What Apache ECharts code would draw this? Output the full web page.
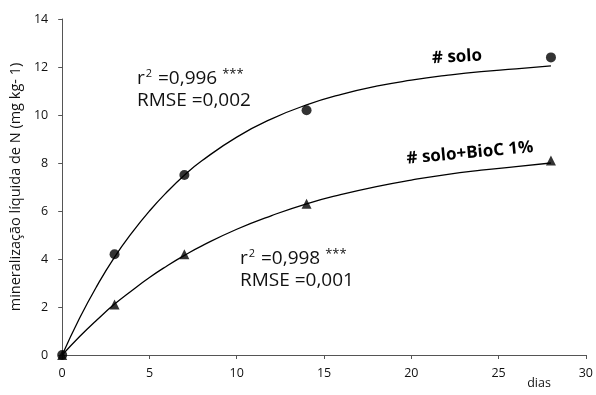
<!DOCTYPE html>
<html><head><meta charset="utf-8">
<script src="https://cdn.jsdelivr.net/npm/echarts@6/dist/echarts.min.js"></script>
<style>html,body{margin:0;padding:0;background:#fff}#c{width:596px;height:395px}</style>
</head><body><div id="c"></div>
<script>
const days = [0, 3, 7, 14, 28];
const solo = [0, 4.2, 7.5, 10.2, 12.4];
const soloBioC = [0, 2.1, 4.2, 6.3, 8.1];
const curveDays = [0, 1, 2, 3, 4, 5, 6, 7, 8, 10, 12, 14, 16, 18, 20, 22, 24, 26, 28];
const soloCurve = [0, 1.54, 2.89, 4.08, 5.10, 6.00, 6.79, 7.49, 8.09, 9.08, 9.84, 10.42, 10.86, 11.20, 11.45, 11.65, 11.81, 11.92, 12.05];
const bioCCurve = [0, 0.77, 1.47, 2.12, 2.69, 3.23, 3.71, 4.15, 4.55, 5.24, 5.81, 6.30, 6.69, 7.02, 7.29, 7.52, 7.70, 7.85, 8.0];
const pair = (xs, ys) => xs.map((x, i) => [x, ys[i]]);
const font = '"Open Sans", "Noto Sans", sans-serif';
const rich = {
  a: {fontSize: 19, fontFamily: font, fill: '#111', lineHeight: 22},
  s: {fontSize: 11, fontFamily: font, fill: '#111', verticalAlign: 'top', lineHeight: 22, padding: [0, 1, 7, 1]},
  t: {fontSize: 13, fontFamily: font, fill: '#111', lineHeight: 22, verticalAlign: 'top'}
};
const chart = echarts.init(document.getElementById('c'));
chart.setOption({
  animation: false,
  grid: {left: 60, right: 7, top: 19, bottom: 40},
  xAxis: {type: 'value', min: 0, max: 30, interval: 5,
    axisLine: {lineStyle: {color: '#555', width: 1}},
    axisTick: {show: true, length: 4, lineStyle: {color: '#555'}},
    axisLabel: {color: '#111', fontSize: 12.5, fontFamily: font, margin: 12},
    splitLine: {show: false}},
  yAxis: {type: 'value', min: 0, max: 14, interval: 2,
    axisLine: {show: true, lineStyle: {color: '#555', width: 1}},
    axisTick: {show: true, length: 4, lineStyle: {color: '#555'}},
    axisLabel: {color: '#111', fontSize: 12.5, fontFamily: font, margin: 14},
    splitLine: {show: false},
    name: 'mineralização líquida de N (mg kg- 1)', nameLocation: 'middle', nameGap: 33,
    nameTextStyle: {color: '#111', fontSize: 14.5, fontFamily: font}},
  series: [
    {type: 'line', data: pair(curveDays, soloCurve), smooth: true, showSymbol: false,
      lineStyle: {color: '#000', width: 1.3}, z: 2},
    {type: 'line', data: pair(curveDays, bioCCurve), smooth: true, showSymbol: false,
      lineStyle: {color: '#000', width: 1.3}, z: 2},
    {type: 'scatter', data: pair(days, solo), symbol: 'circle', symbolSize: 10,
      itemStyle: {color: '#000'}, z: 3},
    {type: 'scatter', data: pair(days, soloBioC), symbol: 'triangle', symbolSize: 10,
      itemStyle: {color: '#000'}, z: 3}
  ],
  graphic: [
    {type: 'text', left: 137, top: 68, style: {text: '{a|r}{s|2}{a| =0,996 }{t|***}\n{a|RMSE =0,002}', rich: rich}},
    {type: 'text', left: 240, top: 248, style: {text: '{a|r}{s|2}{a| =0,998 }{t|***}\n{a|RMSE =0,001}', rich: rich}},
    {type: 'text', x: 457, y: 57, rotation: 0.055, style: {text: '# solo', fontSize: 17, fontWeight: 'bold', fontFamily: font, fill: '#000', align: 'center', verticalAlign: 'middle'}},
    {type: 'text', x: 470, y: 153, rotation: 0.092, style: {text: '# solo+BioC 1%', fontSize: 17, fontWeight: 'bold', fontFamily: font, fill: '#000', align: 'center', verticalAlign: 'middle'}},
    {type: 'text', x: 539, y: 383, style: {text: 'dias', fontSize: 12.5, fontFamily: font, fill: '#111', align: 'center', verticalAlign: 'middle'}}
  ]
});
</script></body></html>
